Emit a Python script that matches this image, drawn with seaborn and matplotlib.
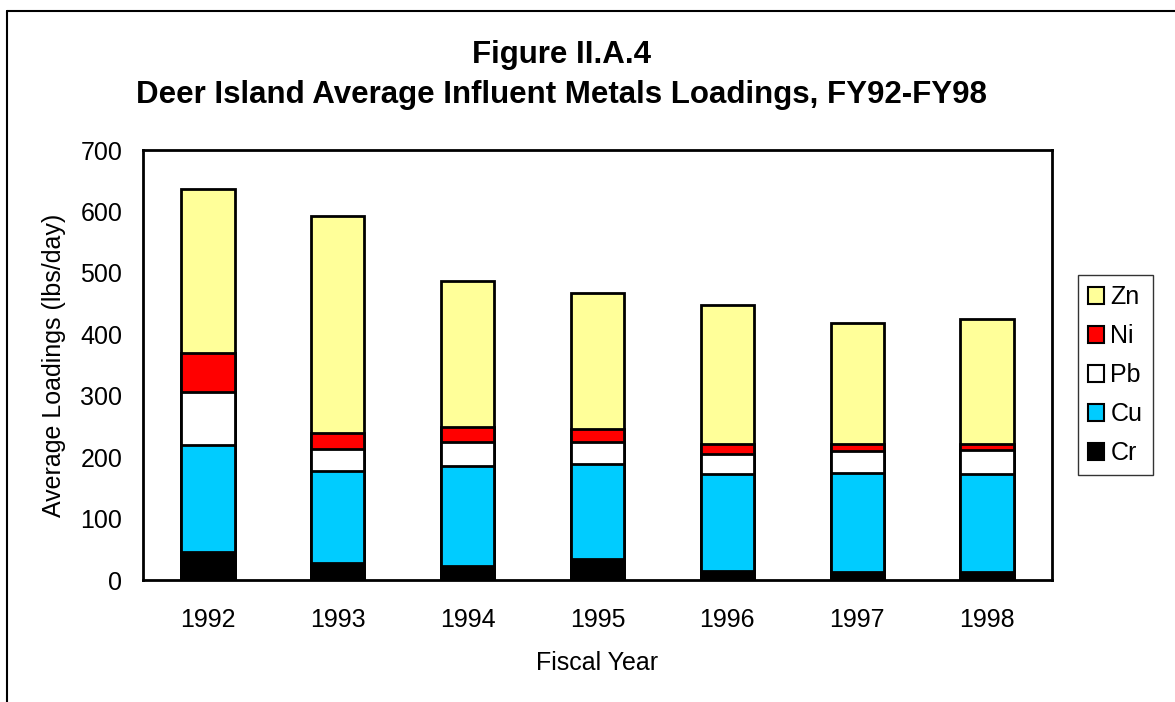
import numpy as np
import pandas as pd
import seaborn as sns
import matplotlib.pyplot as plt
from matplotlib.patches import Patch
from matplotlib.lines import Line2D

# data (lbs/day)
years = ["1992", "1993", "1994", "1995", "1996", "1997", "1998"]
cr = [46, 27, 22, 34, 15, 13, 13]
cu = [173, 151, 164, 155, 157, 162, 160]
pb = [87, 36, 39, 35, 33, 35, 38]
ni = [63, 25, 24, 22, 16, 12, 11]
zn = [267, 354, 237, 221, 226, 197, 203]

metals = ["Cr", "Cu", "Pb", "Ni", "Zn"]
colors = {"Zn": "#FFFF99", "Ni": "#FF0000", "Pb": "#FFFFFF", "Cu": "#00CCFF", "Cr": "#000000"}

df = pd.DataFrame({"year": years, "Cr": cr, "Cu": cu, "Pb": pb, "Ni": ni, "Zn": zn})
cum = df[metals].cumsum(axis=1)

sns.set_style("white")
plt.rcParams["font.family"] = ["Liberation Sans", "DejaVu Sans"]
plt.rcParams["text.color"] = "black"
plt.rcParams["axes.labelcolor"] = "black"
plt.rcParams["xtick.color"] = "black"
plt.rcParams["ytick.color"] = "black"

fig = plt.figure(figsize=(11.75, 7.02), dpi=100)
ax = fig.add_axes([143/1175, 1-580/702, (1052-143)/1175, (580-150)/702])

# draw tallest (cumulative) first so lower layers sit on top
for m in metals[::-1]:
    sns.barplot(x=df["year"], y=cum[m], color=colors[m], saturation=1,
                edgecolor="black", linewidth=2, width=0.41, ax=ax)

ax.set_ylim(0, 700)
ax.set_xlim(-0.5, 6.5)
ax.set_yticks(np.arange(0, 701, 100))
ax.tick_params(axis="y", direction="in", length=7, width=1.5, labelsize=18, pad=15)
ax.tick_params(axis="x", which="major", length=0, labelsize=18, pad=20)
ax.set_xticks(np.arange(-0.5, 7, 1), minor=True)
ax.tick_params(axis="x", which="minor", direction="in", length=6, width=1.5)
for s in ax.spines.values():
    s.set_linewidth(2)
    s.set_color("black")

ax.set_xlabel("Fiscal Year", fontsize=18, labelpad=14)
ax.set_ylabel("Average Loadings (lbs/day)", fontsize=18, labelpad=10)

fig.text(561/1175, 1-63/702, "Figure II.A.4", ha="center", va="baseline",
         fontsize=22.5, fontweight="bold")
fig.text(561/1175, 1-102.5/702, "Deer Island Average Influent Metals Loadings, FY92-FY98",
         ha="center", va="baseline", fontsize=22.5, fontweight="bold")

handles = [Patch(facecolor=colors[m], edgecolor="black", linewidth=1.5, label=m)
           for m in metals[::-1]]
leg = fig.legend(handles=handles, loc="upper left", bbox_to_anchor=(1078/1175, 1-275/702),
                 fontsize=18, frameon=True, fancybox=False, handlelength=0.65,
                 handleheight=0.65, handletextpad=0.25, labelspacing=0.6,
                 borderpad=0.4, borderaxespad=0)
leg.get_frame().set_edgecolor("black")
leg.get_frame().set_linewidth(1)

# outer frame of the figure
fig.add_artist(Line2D([7/1175, 7/1175], [0, 1-11/702], color="black", lw=1.5))
fig.add_artist(Line2D([7/1175, 1], [1-11/702, 1-11/702], color="black", lw=1.5))

fig.savefig("out.png", dpi=100)
